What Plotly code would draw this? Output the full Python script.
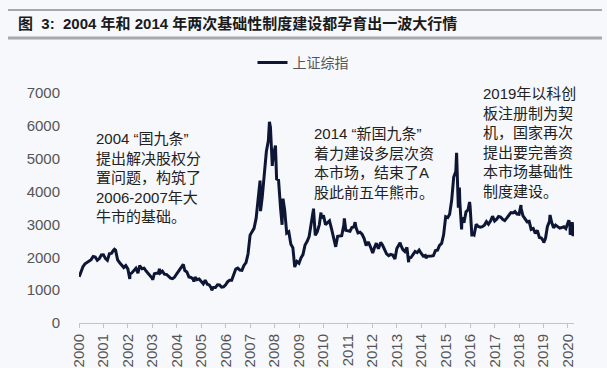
import pandas as pd
import plotly.graph_objects as go

# ---- data ----
series_name = "上证综指"
start_month = "2000-01"
monthly_close = [
    1535, 1714, 1800, 1836, 1894, 1928, 2023, 2007, 1910, 1961, 2071, 2073,   # 2000
    1959, 1907, 2112, 2119, 2214, 2218, 1921, 1834, 1758, 1690, 1747, 1646,   # 2001
    1491, 1524, 1604, 1667, 1515, 1732, 1652, 1669, 1582, 1508, 1437, 1357,   # 2002
    1500, 1511, 1511, 1522, 1577, 1487, 1477, 1421, 1367, 1349, 1398, 1497,   # 2003
    1591, 1676, 1742, 1595, 1555, 1400, 1386, 1342, 1396, 1320, 1341, 1267,   # 2004
    1191, 1306, 1181, 1160, 1061, 1080, 1083, 1162, 1155, 1093, 1099, 1161,   # 2005
    1258, 1299, 1299, 1440, 1641, 1672, 1612, 1601, 1753, 1837, 2099, 2675,   # 2006
    2786, 2881, 3183, 3841, 4109, 3821, 4471, 5218, 5552, 5955, 4871, 5262,   # 2007
    4383, 4348, 3473, 3693, 3433, 2736, 2775, 2397, 2293, 1729, 1871, 1821,   # 2008
    1991, 2082, 2373, 2477, 2632, 2959, 3412, 2667, 2779, 2996, 3195, 3277,   # 2009
    2989, 3051, 3110, 2870, 2592, 2398, 2638, 2639, 2656, 2979, 2820, 2808,   # 2010
    2790, 2905, 2928, 2911, 2743, 2762, 2701, 2568, 2359, 2468, 2333, 2199,   # 2011
    2292, 2428, 2262, 2397, 2373, 2225, 2103, 2047, 2086, 2069, 1980, 2269,   # 2012
    2385, 2366, 2237, 2178, 2301, 1979, 1994, 2098, 2175, 2142, 2220, 2116,   # 2013
    2033, 2056, 2033, 2026, 2039, 2048, 2202, 2217, 2364, 2420, 2683, 3235,   # 2014
    3210, 3310, 3748, 4441, 4612, 4277, 3664, 3206, 3053, 3383, 3445, 3539,   # 2015
    2738, 2688, 3004, 2938, 2917, 2930, 2979, 3085, 3005, 3100, 3250, 3104,   # 2016
    3159, 3242, 3223, 3155, 3117, 3192, 3273, 3361, 3349, 3393, 3317, 3307,   # 2017
    3481, 3259, 3169, 3082, 3095, 2847, 2876, 2725, 2821, 2603, 2588, 2494,   # 2018
    2585, 2941, 3091, 3078, 2899, 2979, 2933, 2886, 2905, 2929, 2872, 3050,   # 2019
    2977, 2880, 2750,                                                         # 2020
]
extreme_dates = [
    "2000-01-04", "2001-06-14", "2002-01-29", "2002-06-25", "2003-01-06",
    "2003-04-16", "2004-04-07", "2004-09-13", "2005-06-06", "2007-05-29",
    "2007-06-05", "2007-10-16", "2007-11-28", "2008-01-14", "2008-04-22",
    "2008-05-06", "2008-10-28", "2009-08-04", "2009-08-31", "2009-11-24",
    "2010-07-02", "2010-11-08", "2011-04-18", "2012-01-06", "2012-05-04",
    "2012-12-03", "2013-02-18", "2013-06-25", "2014-03-12", "2015-06-12",
    "2015-07-08", "2015-07-24", "2015-08-26", "2015-12-23", "2016-01-27",
    "2018-01-29", "2019-01-04", "2019-04-08", "2020-01-14", "2020-02-03",
    "2020-03-05", "2020-03-19",
]
extreme_values = [
    1406, 2245, 1339, 1748, 1311,
    1649, 1783, 1260, 998, 4335,
    3404, 6124, 4778, 5400, 2990,
    3786, 1700, 3478, 2667, 3361,
    2319, 3186, 3067, 2132, 2453,
    1949, 2444, 1849, 1974, 5178,
    3507, 4124, 2850, 3684, 2638,
    3587, 2440, 3288, 3127, 2685,
    3071, 2646,
]
year_ticks = list(range(2000, 2021))

# ---- build series ----
month_dates = pd.date_range(start=start_month, periods=len(monthly_close), freq="ME")
df = pd.concat([
    pd.DataFrame({"date": month_dates, "value": monthly_close}),
    pd.DataFrame({"date": pd.to_datetime(extreme_dates), "value": extreme_values}),
]).sort_values("date")

# ---- geometry helpers (pixel -> paper) ----
L, R, T, B = 79, 33, 93, 45
W, H = 607, 368
PW, PH = W - L - R, H - T - B
def px(x):
    return (x - L) / PW
def py(y):
    return (H - B - y) / PH

font_cn = "Liberation Sans, Arial, Noto Sans CJK SC"
bg = "#f7f8fb"

fig = go.Figure()
fig.add_trace(go.Scatter(
    x=df["date"], y=df["value"], mode="lines", name=series_name,
    line=dict(color="#0e1636", width=3),
))

fig.update_layout(
    width=W, height=H,
    margin=dict(l=L, r=R, t=T, b=B, autoexpand=False),
    paper_bgcolor=bg, plot_bgcolor=bg,
    showlegend=True,
    legend=dict(orientation="h", x=px(303), xanchor="center", y=py(63), yanchor="middle",
                font=dict(family=font_cn, size=14, color="#555555"),
                bgcolor="rgba(0,0,0,0)", itemwidth=30),
    font=dict(family=font_cn),
)
fig.update_xaxes(
    type="date", automargin=False,
    range=["2000-01-01", "2020-03-31"],
    tickvals=[f"{y}-01-01" for y in year_ticks],
    ticktext=[str(y) for y in year_ticks],
    tickangle=-90,
    tickfont=dict(family="Liberation Sans, Arial", size=15, color="#555555"),
    showline=True, linecolor="#c4c4c4", linewidth=1,
    ticks="outside", ticklen=4, tickcolor="#c4c4c4",
    showgrid=False, zeroline=False,
)
fig.update_yaxes(
    automargin=False,
    range=[0, 7000], tickvals=[0, 1000, 2000, 3000, 4000, 5000, 6000, 7000],
    tickfont=dict(family="Liberation Sans, Arial", size=15, color="#555555"),
    showline=False, showgrid=False, zeroline=False, ticks="",
    ticklabelstandoff=18,
)

# title rules
fig.add_shape(type="line", xref="paper", yref="paper", x0=px(8), x1=px(602), y0=py(10), y1=py(10),
              line=dict(color="#a8a8a8", width=2))
fig.add_shape(type="line", xref="paper", yref="paper", x0=px(8), x1=px(602), y0=py(38), y1=py(38),
              line=dict(color="#a8a8a8", width=3))
fig.add_annotation(xref="paper", yref="paper", x=px(16), y=py(24), xanchor="left", yanchor="middle",
                   showarrow=False,
                   text="<b>图  3:  2004 年和 2014 年两次基础性制度建设都孕育出一波大行情</b>",
                   font=dict(family=font_cn, size=15, color="#1a1a1a"))

notes = [
    (94, 128, "2004 “国九条”<br>提出解决股权分<br>置问题，构筑了<br>2006-2007年大<br>牛市的基础。"),
    (312, 123, "2014 “新国九条”<br>着力建设多层次资<br>本市场，结束了A<br>股此前五年熊市。"),
    (481, 83, "2019年以科创<br>板注册制为契<br>机，国家再次<br>提出要完善资<br>本市场基础性<br>制度建设。"),
]
for x, y, t in notes:
    fig.add_annotation(xref="paper", yref="paper", x=px(x), y=py(y), xanchor="left", yanchor="top",
                       showarrow=False, align="left", text=t,
                       font=dict(family=font_cn, size=15, color="#222222"))

fig.write_html("out.html", config={"displayModeBar": False},
               post_script="document.body.style.margin='0';")
